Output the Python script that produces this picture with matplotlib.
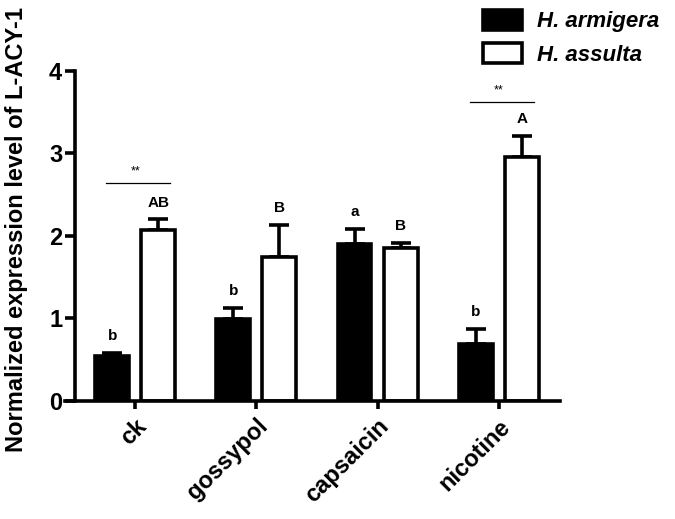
import numpy as np
import matplotlib.pyplot as plt

plt.rcParams["font.family"] = ["Liberation Sans", "DejaVu Sans"]
plt.rcParams["font.weight"] = "bold"

treatments = ["ck", "gossypol", "capsaicin", "nicotine"]
armigera = [0.54, 0.99, 1.90, 0.69]
armigera_err = [0.04, 0.14, 0.19, 0.18]
assulta = [2.07, 1.74, 1.85, 2.96]
assulta_err = [0.13, 0.39, 0.07, 0.25]
armigera_letters = ["b", "b", "a", "b"]
assulta_letters = ["AB", "B", "B", "A"]
sig_groups = [0, 3]
sig_heights = [2.64, 3.62]

x = np.arange(len(treatments))
w = 0.28
off = 0.19

fig = plt.figure(figsize=(6.75, 5.19), dpi=100)
ax = fig.add_axes([0.0963, 0.2274, 0.734, 0.636])

lw = 2.6
ax.bar(x - off, armigera, w, color="black", edgecolor="black", linewidth=lw,
       label="H. armigera", zorder=2)
ax.bar(x + off, assulta, w, color="white", edgecolor="black", linewidth=lw,
       label="H. assulta", zorder=2)
ax.errorbar(x - off, armigera, yerr=[np.zeros(4), armigera_err], fmt="none",
            ecolor="black", elinewidth=lw, capsize=7, capthick=lw, zorder=1)
ax.errorbar(x + off, assulta, yerr=[np.zeros(4), assulta_err], fmt="none",
            ecolor="black", elinewidth=lw, capsize=7, capthick=lw, zorder=1)

# letters above error bars
for i in range(4):
    ax.text(x[i] - off, armigera[i] + armigera_err[i] + 0.12, armigera_letters[i],
            ha="center", va="bottom", fontsize=11, fontweight="bold")
    ax.text(x[i] + off, assulta[i] + assulta_err[i] + 0.12, assulta_letters[i],
            ha="center", va="bottom", fontsize=11, fontweight="bold")

# significance lines
for g, h in zip(sig_groups, sig_heights):
    ax.plot([x[g] - off - 0.05, x[g] + off + 0.1], [h, h], color="black", lw=0.9)
    ax.text(x[g], h + 0.07, "**", ha="center", va="bottom", fontsize=9,
            fontweight="normal")

ax.spines["left"].set_position(("data", -0.5))
ax.spines["top"].set_visible(False)
ax.spines["right"].set_visible(False)
for s in ["left", "bottom"]:
    ax.spines[s].set_linewidth(lw)

ax.set_xlim(-0.58, 3.51)
ax.set_ylim(0, 4)
ax.set_yticks([0, 1, 2, 3, 4])
ax.set_yticklabels(["0", "1", "2", "3", "4"], fontsize=17, fontweight="bold")
ax.set_xticks(x)
ax.set_xticklabels(treatments, rotation=45, ha="right", rotation_mode="anchor",
                   fontsize=17, fontweight="bold")
ax.tick_params(axis="y", length=7, width=lw, pad=2)
ax.tick_params(axis="x", length=6, width=lw, pad=4)

fig.text(0.024, 0.558, "Normalized expression level of L-ACY-1", rotation=90,
         ha="center", va="center", fontsize=17, fontweight="bold")

leg = fig.legend(loc="upper left", bbox_to_anchor=(0.686, 1.02), frameon=False,
                 prop={"size": 16, "weight": "bold", "style": "italic"},
                 handlelength=1.75, handleheight=1.0, labelspacing=0.5, handletextpad=0.7)

fig.savefig("out.png", dpi=100)
